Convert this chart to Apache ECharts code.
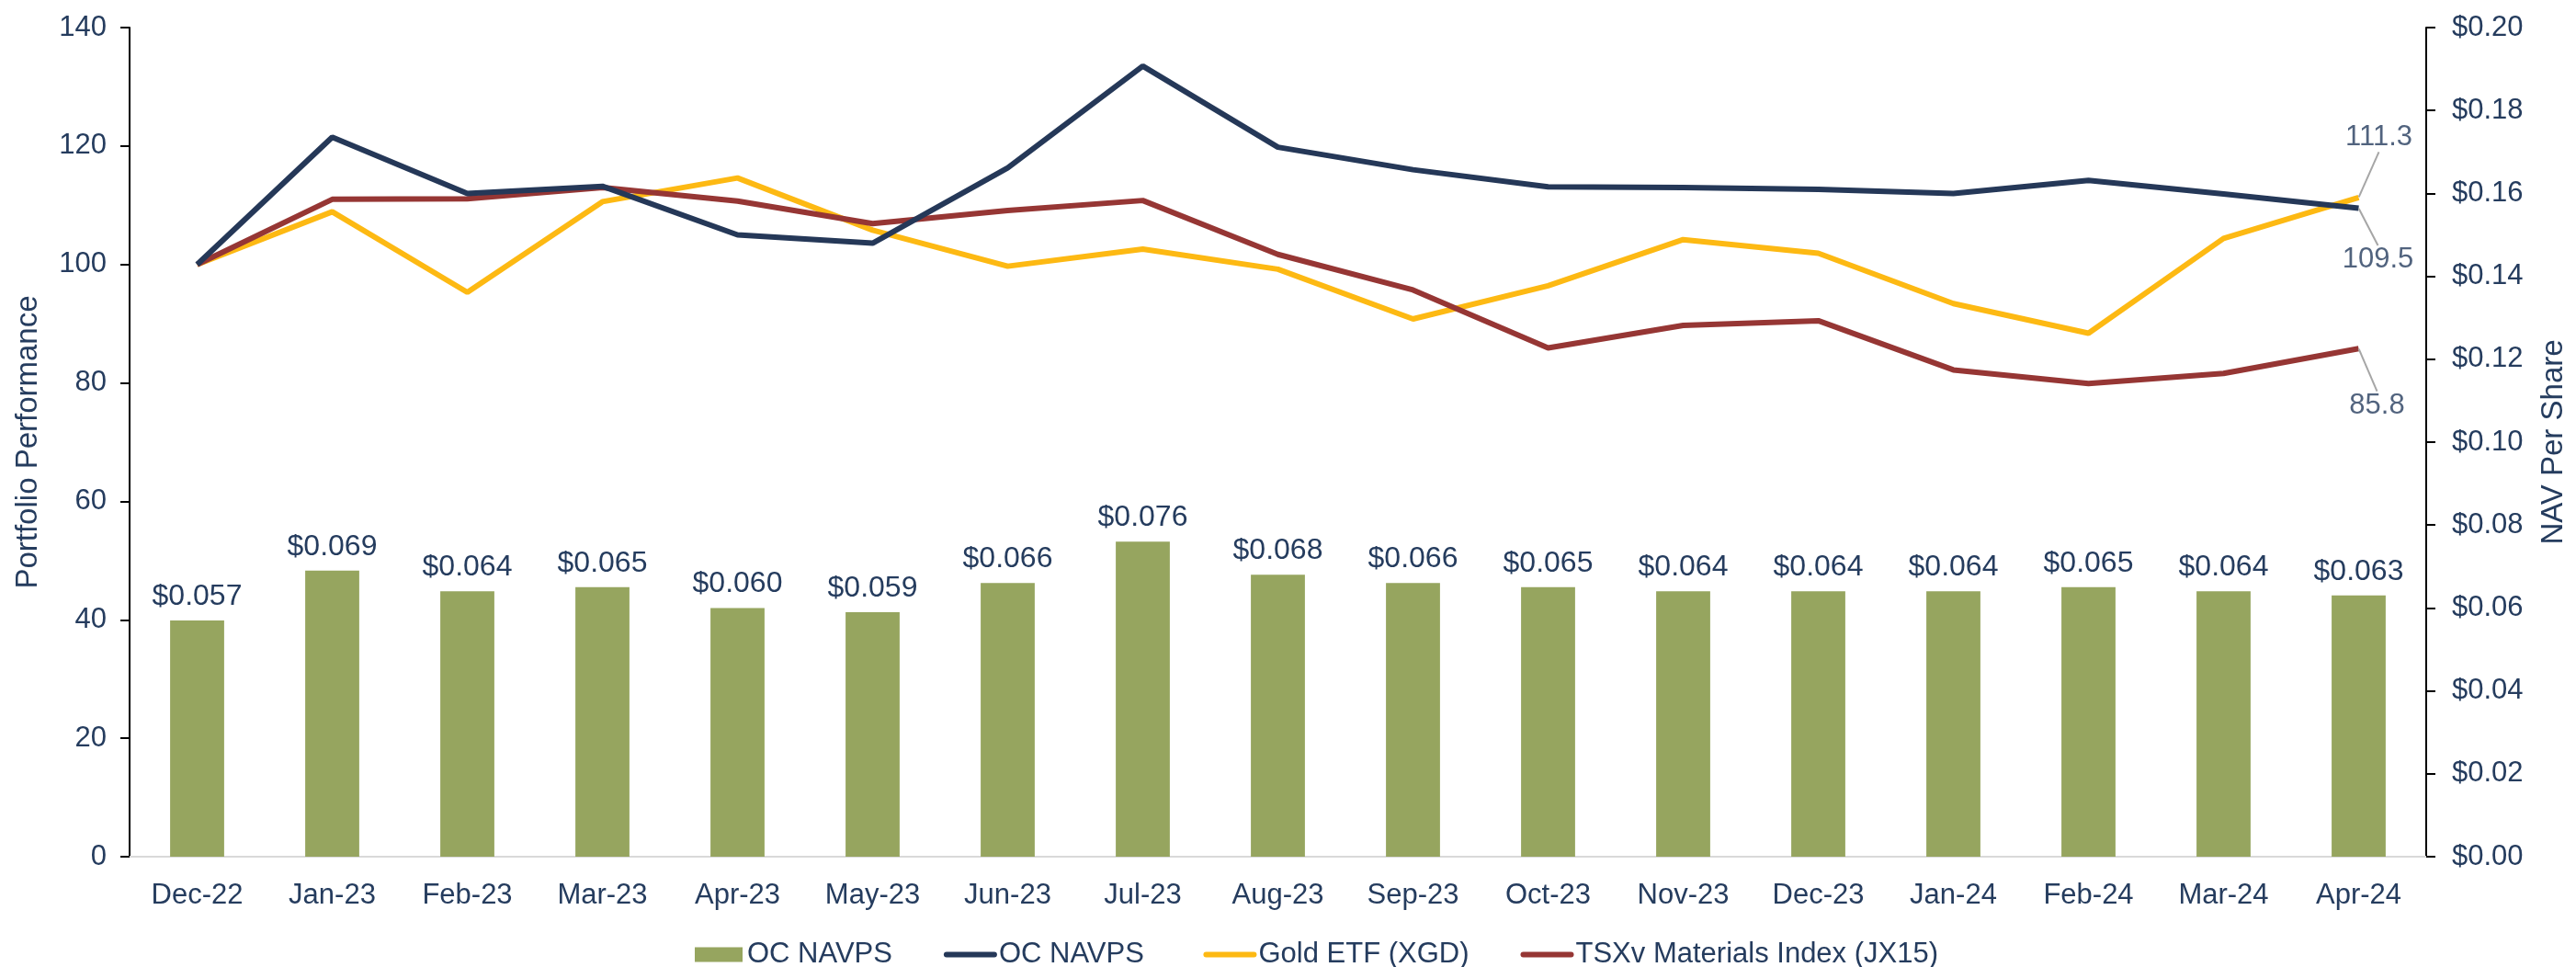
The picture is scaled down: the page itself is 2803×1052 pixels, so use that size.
<!DOCTYPE html>
<html>
<head>
<meta charset="utf-8">
<script src="https://cdn.jsdelivr.net/npm/echarts@6/dist/echarts.min.js"></script>
<style>
  html, body { margin: 0; padding: 0; background: #fff; }
  #chart { width: 2803px; height: 1052px; }
</style>
</head>
<body>
<div id="chart"></div>
<script>
var months = ['Dec-22', 'Jan-23', 'Feb-23', 'Mar-23', 'Apr-23', 'May-23', 'Jun-23', 'Jul-23', 'Aug-23',
    'Sep-23', 'Oct-23', 'Nov-23', 'Dec-23', 'Jan-24', 'Feb-24', 'Mar-24', 'Apr-24'];
var navps = [0.057, 0.069, 0.064, 0.065, 0.060, 0.059, 0.066, 0.076, 0.068,
    0.066, 0.065, 0.064, 0.064, 0.064, 0.065, 0.064, 0.063];
var ocPerf = [100, 121.5, 112.0, 113.2, 105.0, 103.6, 116.3, 133.5, 119.8,
    116.0, 113.1, 113.0, 112.7, 112.0, 114.2, 111.9, 109.5];
var goldPerf = [100, 108.9, 95.3, 110.6, 114.6, 105.8, 99.7, 102.6, 99.2,
    90.8, 96.4, 104.2, 101.9, 93.4, 88.4, 104.4, 111.3];
var tsxvPerf = [100, 111.0, 111.1, 113.0, 110.7, 106.9, 109.1, 110.8, 101.7,
    95.7, 85.9, 89.7, 90.5, 82.2, 79.9, 81.6, 85.8];
var leftTicks = [0, 140, 20];
var rightTicks = [0, 0.20, 0.02];

var TEXT = '#253C5E';
var FONT = 'Liberation Sans, Arial, sans-serif';
var FS = 31;
var last = months.length - 1;

// small helper series that only carry the end-of-line labels + leader lines
function endLabel(values, dx, dy) {
    return {
        type: 'scatter',
        yAxisIndex: 0,
        symbolSize: 1,
        itemStyle: { color: 'rgba(0,0,0,0)' },
        silent: true,
        z: 5,
        data: [[months[last], values[last]]],
        label: {
            show: true,
            position: 'inside',
            color: TEXT,
            fontSize: FS,
            fontFamily: FONT,
            formatter: function (p) { return p.value[1].toFixed(1); }
        },
        labelLayout: { dx: dx, dy: dy },
        labelLine: { show: true, lineStyle: { color: '#A6A6A6', width: 2 } }
    };
}

var lineLegend = { itemStyle: { opacity: 0 } };

var chart = echarts.init(document.getElementById('chart'));
chart.setOption({
    backgroundColor: '#fff',
    animation: false,
    textStyle: { fontFamily: FONT, color: TEXT },
    grid: { left: 141, right: 151, top: 30, bottom: 120, containLabel: false },
    legend: {
        left: 751,
        top: 1018,
        itemWidth: 52,
        itemHeight: 16,
        itemGap: 56,
        lineStyle: { width: 6, cap: 'round' },
        textStyle: { fontSize: FS, color: TEXT, fontFamily: FONT },
        data: [
            { name: 'OC NAVPS', icon: 'rect' },
            Object.assign({ name: 'OC NAVPS ' }, lineLegend),
            Object.assign({ name: 'Gold ETF (XGD)' }, lineLegend),
            Object.assign({ name: 'TSXv Materials Index (JX15)' }, lineLegend)
        ]
    },
    xAxis: {
        type: 'category',
        data: months,
        boundaryGap: true,
        axisLine: { lineStyle: { color: '#D9D9D9', width: 2 } },
        axisTick: { show: false },
        axisLabel: { color: TEXT, fontSize: FS, margin: 27, interval: 0 }
    },
    yAxis: [{
        type: 'value',
        min: leftTicks[0], max: leftTicks[1], interval: leftTicks[2],
        name: 'Portfolio Performance',
        nameLocation: 'middle',
        nameGap: 94,
        nameTextStyle: { color: TEXT, fontSize: 33 },
        axisLine: { show: true, lineStyle: { color: '#000', width: 2 } },
        axisTick: { show: true, length: 10, lineStyle: { color: '#000', width: 2 } },
        splitLine: { show: false },
        axisLabel: { color: TEXT, fontSize: FS, margin: 25 }
    }, {
        type: 'value',
        position: 'right',
        min: rightTicks[0], max: rightTicks[1], interval: rightTicks[2],
        name: 'NAV Per Share',
        nameLocation: 'middle',
        nameGap: 122,
        nameRotate: 90,
        nameTextStyle: { color: TEXT, fontSize: 33 },
        axisLine: { show: true, lineStyle: { color: '#000', width: 2 } },
        axisTick: { show: true, length: 10, lineStyle: { color: '#000', width: 2 } },
        splitLine: { show: false },
        axisLabel: {
            color: TEXT, fontSize: FS, margin: 28,
            formatter: function (v) { return '$' + v.toFixed(2); }
        }
    }],
    series: [{
        name: 'OC NAVPS',
        type: 'bar',
        yAxisIndex: 1,
        barWidth: '40%',
        data: navps,
        itemStyle: { color: '#96A55F' },
        label: {
            show: true,
            position: 'top',
            distance: 10,
            color: TEXT,
            fontSize: 32,
            formatter: function (p) { return '$' + p.value.toFixed(3); }
        }
    }, {
        name: 'OC NAVPS ',
        type: 'line',
        yAxisIndex: 0,
        data: ocPerf,
        symbol: 'none',
        lineStyle: { color: '#253858', width: 6 },
        itemStyle: { color: '#253858' },
        z: 4
    }, {
        name: 'Gold ETF (XGD)',
        type: 'line',
        yAxisIndex: 0,
        data: goldPerf,
        symbol: 'none',
        lineStyle: { color: '#FDB913', width: 6 },
        itemStyle: { color: '#FDB913' },
        z: 3
    }, {
        name: 'TSXv Materials Index (JX15)',
        type: 'line',
        yAxisIndex: 0,
        data: tsxvPerf,
        symbol: 'none',
        lineStyle: { color: '#963634', width: 6 },
        itemStyle: { color: '#963634' },
        z: 3
    },
    endLabel(goldPerf, 22, -65),
    endLabel(ocPerf, 21, 56),
    endLabel(tsxvPerf, 20, 62)
    ]
});
</script>
</body>
</html>
